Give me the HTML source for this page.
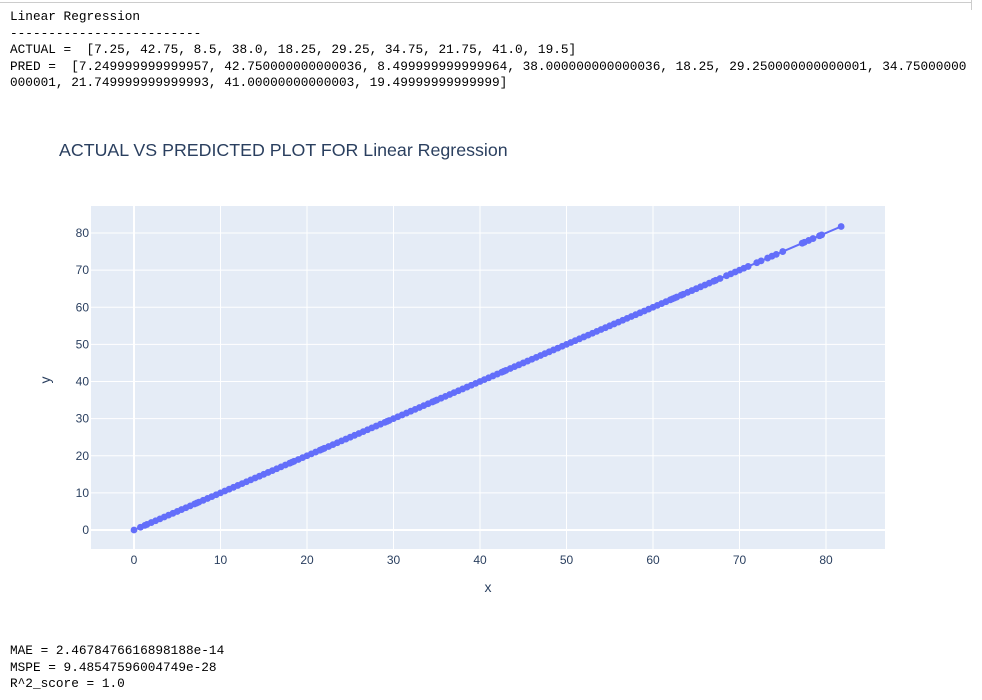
<!DOCTYPE html>
<html><head><meta charset="utf-8"><style>
body{margin:0;width:982px;height:700px;background:#fff;overflow:hidden;position:relative;font-family:"Liberation Sans",sans-serif}
.mono{position:absolute;left:10px;font-family:"Liberation Mono",monospace;font-size:12.75px;line-height:16.5px;color:#000;white-space:pre}
</style></head><body>
<div style="position:absolute;left:0;top:2px;width:972px;height:1px;background:#ccc"></div>
<div style="position:absolute;left:971px;top:0;width:1px;height:10px;background:#ccc"></div>
<div class="mono" style="top:9px">Linear Regression
-------------------------
ACTUAL =  [7.25, 42.75, 8.5, 38.0, 18.25, 29.25, 34.75, 21.75, 41.0, 19.5]
PRED =  [7.249999999999957, 42.750000000000036, 8.499999999999964, 38.000000000000036, 18.25, 29.250000000000001, 34.75000000
000001, 21.749999999999993, 41.00000000000003, 19.49999999999999]</div>
<svg width="982" height="700" style="position:absolute;left:0;top:0">
<text x="59" y="156" font-size="17.8" fill="#2a3f5f" font-family="Liberation Sans, sans-serif">ACTUAL VS PREDICTED PLOT FOR Linear Regression</text>
<rect x="91" y="206" width="794" height="343" fill="#e5ecf6"/>
<g id="grid"></g><g id="ticks"></g><g id="marks"></g>
<text x="488" y="592" font-size="14" fill="#2a3f5f" text-anchor="middle">x</text>
<text x="50" y="380" font-size="14" fill="#2a3f5f" text-anchor="middle" transform="rotate(-90 50 380)">y</text>
</svg>
<div class="mono" style="top:643px">MAE = 2.4678476616898188e-14
MSPE = 9.48547596004749e-28
R^2_score = 1.0</div>
<script>
const xTicks=[0,10,20,30,40,50,60,70,80];
const yTicks=[0,10,20,30,40,50,60,70,80];
const actual=[0,0.75,1.25,1.5,2,2.5,3,3.5,4,4.5,5,5.5,6,6.5,7,7.25,7.5,8,8.5,9,9.5,10,10.5,11,11.5,12,12.5,13,13.5,14,14.5,15,15.5,16,16.5,17,17.5,18,18.25,18.5,19,19.5,20,20.5,21,21.5,21.75,22,22.5,23,23.5,24,24.5,25,25.5,26,26.5,27,27.5,28,28.5,29,29.25,29.5,30,30.5,31,31.5,32,32.5,33,33.5,34,34.5,34.75,35,35.5,36,36.5,37,37.5,38,38.5,39,39.5,40,40.5,41,41.5,42,42.5,42.75,43,43.5,44,44.5,45,45.5,46,46.5,47,47.5,48,48.5,49,49.5,50,50.5,51,51.5,52,52.5,53,53.5,54,54.5,55,55.5,56,56.5,57,57.5,58,58.5,59,59.5,60,60.5,61,61.5,62,62.25,62.5,62.75,63.25,63.5,64,64.5,65,65.5,66,66.5,67,67.25,67.75,68.5,69,69.5,70,70.5,71,72,72.5,73.25,73.75,74.25,75,77.25,77.5,78,78.5,79.25,79.5,81.75];
const predicted=actual.slice();
const NS='http://www.w3.org/2000/svg';
const X=v=>134+v*(826-134)/80, Y=v=>530-v*(530-233)/80;
function mk(t,a,p){const e=document.createElementNS(NS,t);for(const k in a)e.setAttribute(k,a[k]);p.appendChild(e);return e;}
const g=document.getElementById('grid'),tk=document.getElementById('ticks'),m=document.getElementById('marks');
xTicks.forEach(v=>{const l=mk('line',{x1:X(v),x2:X(v),y1:206,y2:549,stroke:'#fff','stroke-width':v===0?2:1},g);


const t=mk('text',{x:X(v),y:564,'font-size':12,fill:'#2a3f5f','text-anchor':'middle'},tk);t.textContent=v;

});
yTicks.forEach(v=>{const l=mk('line',{x1:91,x2:885,y1:Y(v),y2:Y(v),stroke:'#fff','stroke-width':v===0?2:1},g);


const t=mk('text',{x:89,y:Y(v)+4,'font-size':12,fill:'#2a3f5f','text-anchor':'end'},tk);t.textContent=v;

});
const pl=mk('polyline',{points:actual.map((a,i)=>X(a)+','+Y(predicted[i])).join(' '),fill:'none',stroke:'#636efa','stroke-width':2},m);


actual.forEach((a,i)=>{const c=mk('circle',{cx:X(a),cy:Y(predicted[i]),r:3.4,fill:'#636efa'},m);

});
</script>
</body></html>
